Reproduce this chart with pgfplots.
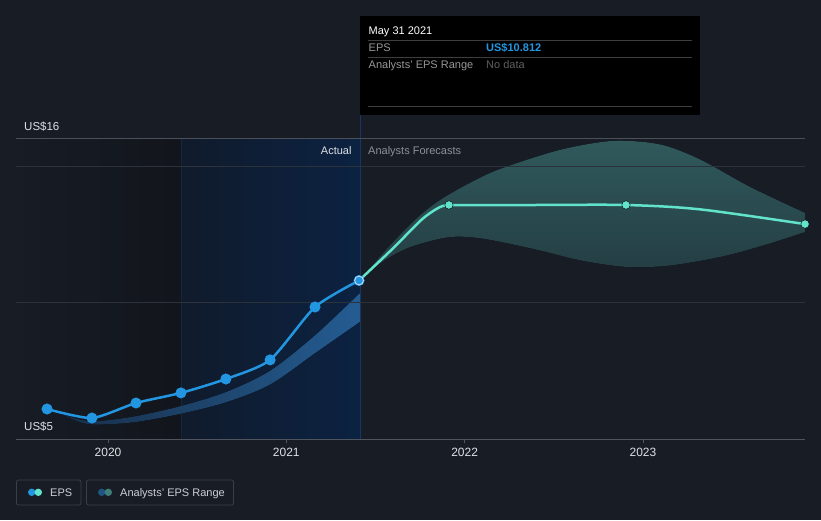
\documentclass[border=0pt]{standalone}
\usepackage{pgfplots}
\pgfplotsset{compat=1.18}
\usepgfplotslibrary{fillbetween}
\usepackage{fontspec}
\setmainfont{Liberation Sans}
\pgfdeclarelayer{picbg}
\pgfplotsset{
  layers/mine/.define layer set={picbg,axis background,axis grid,axis ticks,axis lines,axis tick labels,pre main,main,axis descriptions,axis foreground}{},
}
\definecolor{bg}{RGB}{23,28,37}
\definecolor{pastdark}{RGB}{18,21,27}
\definecolor{blueL}{RGB}{16,27,44}
\definecolor{blueR}{RGB}{12,34,66}
\definecolor{vline}{RGB}{24,54,98}
\definecolor{vline2}{RGB}{20,38,64}
\definecolor{gridc}{RGB}{44,50,60}
\definecolor{topc}{RGB}{74,79,90}
\definecolor{axisc}{RGB}{80,84,94}
\definecolor{tickc}{RGB}{222,224,228}
\definecolor{epsblue}{RGB}{35,150,226}
\definecolor{aqua}{RGB}{98,228,204}
\definecolor{histL}{RGB}{24,46,72}
\definecolor{histR}{RGB}{36,92,146}
\definecolor{fctop}{RGB}{48,89,91}
\definecolor{fcbot}{RGB}{35,60,66}
\definecolor{greyt}{RGB}{140,145,152}
\definecolor{ttgrey}{RGB}{150,150,150}
\definecolor{ttdark}{RGB}{95,95,95}
\definecolor{ttline}{RGB}{62,62,62}
\definecolor{legbox}{RGB}{58,63,72}
\definecolor{legtext}{RGB}{205,207,212}
\definecolor{legblue}{RGB}{31,85,130}
\definecolor{legteal}{RGB}{62,125,120}
\definecolor{hoverring}{RGB}{205,225,245}
\begin{document}
\begin{tikzpicture}
\begin{axis}[
  set layers=mine,
  at={(16pt,81pt)}, anchor=south west, scale only axis,
  width=789pt, height=300pt,
  xmin=2019.484, xmax=2023.909, ymin=5, ymax=16,
  axis x line*=bottom, axis y line*=left,
  x axis line style={draw=axisc, line width=1pt, -},
  y axis line style={draw=none},
  xtick={2020,2021,2022,2023}, xticklabels={2020,2021,2022,2023},
  xtick align=outside, major tick length=4pt,
  x tick style={draw=axisc, line width=0.8pt},
  ytick={10,15}, yticklabels={}, y tick style={draw=none},
  ymajorgrids, grid style={draw=gridc, line width=0.8pt},
  extra y ticks={16}, extra y tick labels={},
  extra y tick style={grid style={draw=topc, line width=1pt}, tick style={draw=none}},
  x tick label style={font=\fontsize{12}{14}\selectfont, text=tickc, yshift=-2pt},
]
% historical analyst range
\addplot[name path=hu, draw=none, smooth] coordinates {
 (2019.731,5.94) (2019.85,5.70) (2019.95,5.66) (2020.151,5.83) (2020.404,6.2)
 (2020.662,6.72) (2020.909,7.5) (2021.161,8.8) (2021.413,10.35)};
\addplot[name path=hl, draw=none, smooth] coordinates {
 (2019.731,5.94) (2019.85,5.60) (2019.95,5.53) (2020.151,5.62) (2020.404,5.92)
 (2020.662,6.35) (2020.909,7.0) (2021.161,8.15) (2021.413,9.3)};
\addplot[left color=histL, right color=histR, draw=none] fill between[of=hu and hl];
% forecast range
\addplot[name path=fu, draw=none, smooth] coordinates {
 (2021.408,10.81) (2021.582,12.1) (2021.733,13.1) (2021.862,13.76) (2022.030,14.39)
 (2022.199,14.9) (2022.535,15.6) (2022.832,15.93) (2023.096,15.8) (2023.320,15.25)
 (2023.601,14.24) (2023.909,13.29)};
\addplot[name path=fl, draw=none, smooth] coordinates {
 (2021.408,10.81) (2021.55,11.55) (2021.70,12.05) (2021.912,12.40) (2022.10,12.35)
 (2022.40,11.95) (2022.65,11.55) (2022.905,11.31) (2023.15,11.36) (2023.45,11.7)
 (2023.70,12.15) (2023.909,12.59)};
\addplot[top color=fctop, bottom color=fcbot, draw=none] fill between[of=fu and fl];
% EPS actual
\addplot[epsblue, line width=2.5pt, smooth, tension=0.4, mark=*, mark size=4.2pt,
  mark options={fill=epsblue, draw=none}] coordinates {
 (2019.658,6.10) (2019.910,5.77) (2020.157,6.32) (2020.409,6.69) (2020.661,7.20)
 (2020.909,7.90) (2021.161,9.84) (2021.408,10.812)};
% EPS forecast
\addplot[aqua, line width=2.5pt, smooth, tension=0.5] coordinates {
 (2021.408,10.812) (2021.60,12.0) (2021.76,13.05) (2021.86,13.5) (2021.912,13.58)};
\addplot[aqua, line width=2.5pt, smooth, tension=0.5] coordinates {
 (2021.912,13.58) (2022.4,13.58) (2022.905,13.58) (2023.320,13.42) (2023.909,12.88)};
\addplot[only marks, mark=*, mark size=4.2pt, mark options={fill=aqua, draw=none}] coordinates {
 (2021.912,13.58) (2022.905,13.58) (2023.909,12.88)};
\addplot[only marks, mark=*, mark size=4.4pt, mark options={fill=epsblue, draw=hoverring, line width=0.8pt}] coordinates {
 (2021.408,10.812)};
\end{axis}
% background on the lowest layer
\begin{pgfonlayer}{picbg}
\fill[bg] (0,0) rectangle (821pt,520pt);
\shade[left color=bg, right color=pastdark] (16pt,81pt) rectangle (181pt,381pt);
\shade[left color=blueL, right color=blueR] (181pt,81pt) rectangle (360pt,381pt);
\draw[vline2, line width=0.6pt] (181.3pt,81pt) -- (181.3pt,381pt);
\draw[vline, line width=0.8pt] (360.5pt,81pt) -- (360.5pt,405pt);
\end{pgfonlayer}
% labels
\node[anchor=base west, inner sep=0, text=tickc, font=\fontsize{11.5}{13}\selectfont] at (24pt,389pt) {US\$16};
\node[anchor=base west, inner sep=0, text=tickc, font=\fontsize{11.5}{13}\selectfont] at (24pt,89.5pt) {US\$5};
\node[anchor=base east, inner sep=0, text=tickc, font=\fontsize{11}{13}\selectfont] at (351.7pt,365pt) {Actual};
\node[anchor=base west, inner sep=0, text=greyt, font=\fontsize{11}{13}\selectfont] at (368pt,365pt) {Analysts Forecasts};
% tooltip
\fill[black] (359.5pt,405pt) rectangle (700pt,504pt);
\node[anchor=base west, inner sep=0, text=white, font=\fontsize{11}{13}\selectfont] at (368.5pt,485pt) {May 31 2021};
\draw[ttline, line width=0.8pt] (368pt,479.3pt) -- (692pt,479.3pt);
\node[anchor=base west, inner sep=0, text=ttgrey, font=\fontsize{11}{13}\selectfont] at (368.5pt,468.3pt) {EPS};
\node[anchor=base west, inner sep=0, text=epsblue, font=\bfseries\fontsize{11}{13}\selectfont] at (486pt,468.3pt) {US\$10.812};
\draw[ttline, line width=0.8pt] (368pt,462.7pt) -- (692pt,462.7pt);
\node[anchor=base west, inner sep=0, text=ttgrey, font=\fontsize{11}{13}\selectfont] at (368.5pt,451.7pt) {Analysts' EPS Range};
\node[anchor=base west, inner sep=0, text=ttdark, font=\fontsize{11}{13}\selectfont] at (486pt,451.7pt) {No data};
\draw[ttline, line width=0.8pt] (368pt,413.3pt) -- (692pt,413.3pt);
% legend
\draw[legbox, line width=0.8pt, rounded corners=2pt] (16.5pt,15pt) rectangle (81pt,40pt);
\fill[epsblue] (31.7pt,27.7pt) circle (3.7pt);
\fill[aqua] (38.3pt,27.7pt) circle (3.7pt);
\node[anchor=base west, inner sep=0, text=legtext, font=\fontsize{11}{13}\selectfont] at (50pt,23.7pt) {EPS};
\draw[legbox, line width=0.8pt, rounded corners=2pt] (86.5pt,15pt) rectangle (233.5pt,40pt);
\fill[legblue] (101.7pt,27.7pt) circle (3.7pt);
\fill[legteal] (108.3pt,27.7pt) circle (3.7pt);
\node[anchor=base west, inner sep=0, text=legtext, font=\fontsize{11}{13}\selectfont] at (120pt,23.7pt) {Analysts' EPS Range};
\end{tikzpicture}
\end{document}
